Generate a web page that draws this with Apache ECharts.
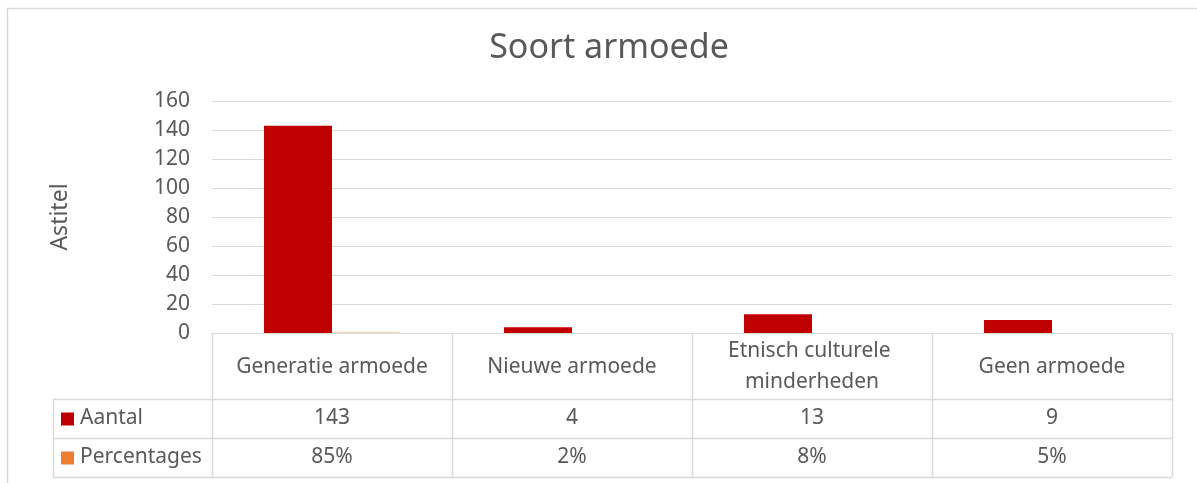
<!DOCTYPE html>
<html>
<head>
<meta charset="utf-8">
<script src="https://cdn.jsdelivr.net/npm/echarts@6/dist/echarts.min.js"></script>
<style>
  html, body { margin: 0; padding: 0; background: #fff; }
  #chart { width: 1197px; height: 483px; }
</style>
</head>
<body>
<div id="chart"></div>
<script>
// data
const categories = ['Generatie armoede', 'Nieuwe armoede', 'Etnisch culturele minderheden', 'Geen armoede'];
const aantal = [143, 4, 13, 9];
const percentages = [0.85, 0.02, 0.08, 0.05];
const seriesNames = ['Aantal', 'Percentages'];
const seriesColors = ['#C00000', '#ED7D31'];

const textColor = '#595959';
const lineColor = '#d9d9d9';
const fontFamily = '"Noto Sans", sans-serif';

const chart = echarts.init(document.getElementById('chart'));

const option = {
  animation: false,
  title: {
    text: 'Soort armoede',
    left: 604,
    top: 26,
    textAlign: 'center',
    textStyle: { color: textColor, fontSize: 34, fontWeight: 'normal', fontFamily: fontFamily }
  },
  grid: { left: 212, right: 25, top: 101, bottom: 150 },
  xAxis: {
    type: 'category',
    data: categories,
    axisLabel: { show: false },
    axisTick: { show: false },
    axisLine: { show: true, lineStyle: { color: lineColor } }
  },
  yAxis: {
    type: 'value',
    min: 0,
    max: 160,
    interval: 20,
    name: 'Astitel',
    nameLocation: 'middle',
    nameRotate: 90,
    nameGap: 140,
    nameTextStyle: { color: textColor, fontSize: 23, fontFamily: fontFamily },
    axisLine: { show: false },
    axisTick: { show: false },
    axisLabel: { color: textColor, fontSize: 21, fontFamily: fontFamily, margin: 22 },
    splitLine: { lineStyle: { color: lineColor, width: 1 } }
  },
  series: [
    {
      name: seriesNames[0],
      type: 'bar',
      data: aantal,
      barGap: 0,
      barCategoryGap: '43.3%',
      itemStyle: { color: seriesColors[0] }
    },
    {
      name: seriesNames[1],
      type: 'bar',
      data: percentages,
      itemStyle: { color: seriesColors[1], opacity: 0.35 }
    }
  ]
};

chart.setOption(option);

// data table under the plot, positioned from the category axis
const c0 = chart.convertToPixel({ xAxisIndex: 0 }, 0);
const c1 = chart.convertToPixel({ xAxisIndex: 0 }, 1);
const band = c1 - c0;
const tableLeft = Math.round(c0 - band / 2);
const tableRight = Math.round(tableLeft + band * categories.length);
const yZero = Math.round(chart.convertToPixel({ yAxisIndex: 0 }, 0));
const headerH = 66;
const rowH = 39;
const labelLeft = 53;

const rowTop = [yZero + headerH, yZero + headerH + rowH];
const tableBottom = yZero + headerH + rowH * 2;

const graphics = [];
const hLine = (y, x1, x2) => graphics.push({
  type: 'line', shape: { x1: x1, y1: y + 0.5, x2: x2, y2: y + 0.5 },
  style: { stroke: lineColor, lineWidth: 1.5 }
});
const vLine = (x, y1, y2) => graphics.push({
  type: 'line', shape: { x1: x + 0.5, y1: y1, x2: x + 0.5, y2: y2 },
  style: { stroke: lineColor, lineWidth: 1.5 }
});
const txt = (s, x, y, align, width) => graphics.push({
  type: 'text', x: x, y: y,
  style: {
    text: s, fill: textColor, fontSize: 21, fontFamily: fontFamily,
    align: align, textAlign: align, verticalAlign: 'middle', textVerticalAlign: 'middle',
    width: width, overflow: width ? 'break' : 'none', lineHeight: 31
  }
});

// outer chart border
graphics.push({
  type: 'rect', shape: { x: 7.5, y: 8.5, width: 1300, height: 600 },
  style: { fill: 'none', stroke: lineColor, lineWidth: 1.5 }
});

hLine(rowTop[0], labelLeft, tableRight);
hLine(rowTop[1], labelLeft, tableRight);
hLine(tableBottom, labelLeft, tableRight);
vLine(labelLeft, rowTop[0], tableBottom);
for (let i = 0; i <= categories.length; i++) {
  vLine(Math.round(tableLeft + band * i), yZero, tableBottom);
}

categories.forEach((cat, i) => {
  const cx = tableLeft + band * (i + 0.5);
  txt(cat, cx, yZero + headerH / 2 + 1, 'center', band - 40);
  txt(String(aantal[i]), cx, rowTop[0] + rowH / 2, 'center');
  txt(Math.round(percentages[i] * 100) + '%', cx, rowTop[1] + rowH / 2, 'center');
});

seriesNames.forEach((name, i) => {
  const cy = rowTop[i] + rowH / 2;
  graphics.push({
    type: 'rect', shape: { x: 61, y: cy - 6, width: 13, height: 13 },
    style: { fill: seriesColors[i] }
  });
  txt(name, 80, cy, 'left');
});

chart.setOption({ graphic: graphics });
</script>
</body>
</html>
